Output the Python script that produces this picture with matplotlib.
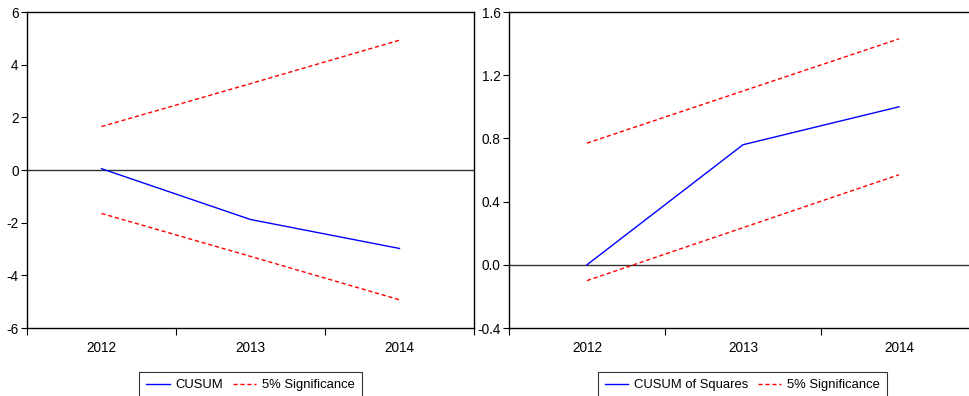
import matplotlib.pyplot as plt
import numpy as np

plt.rcParams['font.family'] = ['Liberation Sans', 'DejaVu Sans']

years = ['2012', '2013', '2014']

cusum = [0.05, -1.88, -2.98]
cusum_up = [1.65, 3.28, 4.93]
cusum_lo = [-1.65, -3.28, -4.93]

cusumsq = [0.0, 0.76, 1.0]
cusumsq_up = [0.77, 1.10, 1.43]
cusumsq_lo = [-0.10, 0.235, 0.57]

W, H = 969, 396
fig = plt.figure(figsize=(W / 100, H / 100), dpi=100)

def box(x0, x1, y0, y1):
    return [x0 / W, 1 - y1 / H, (x1 - x0) / W, (y1 - y0) / H]

ax1 = fig.add_axes(box(27, 474, 12, 328))
ax2 = fig.add_axes(box(509, 977, 12, 328))

def style(ax, ylim, yticks, ylabels):
    x = np.arange(len(years))
    ax.set_xlim(-0.5, len(years) - 0.5)
    ax.set_ylim(*ylim)
    ax.set_xticks(np.arange(len(years) + 1) - 0.5)
    ax.set_xticklabels([])
    ax.set_xticks(x, minor=True)
    ax.set_xticklabels(years, minor=True)
    ax.tick_params(axis='x', which='major', length=5, width=0.8, direction='out')
    ax.tick_params(axis='x', which='minor', length=0, pad=9, labelsize=9.8)
    ax.set_yticks(yticks)
    ax.set_yticklabels(ylabels)
    ax.tick_params(axis='y', length=4, width=0.8, direction='out', pad=2, labelsize=9.8)
    ax.axhline(0, color='#333333', lw=1.0, zorder=1)
    for s in ax.spines.values():
        s.set_linewidth(1.0)
    return x

x = style(ax1, (-6, 6), [-6, -4, -2, 0, 2, 4, 6], ['-6', '-4', '-2', '0', '2', '4', '6'])
ax1.plot(x, cusum, color='blue', lw=1.0, label='CUSUM')
ax1.plot(x, cusum_up, color='red', lw=1.0, ls=(0, (3, 2)), label='5% Significance')
ax1.plot(x, cusum_lo, color='red', lw=1.0, ls=(0, (3, 2)))

x = style(ax2, (-0.4, 1.6), [-0.4, 0.0, 0.4, 0.8, 1.2, 1.6],
          ['-0.4', '0.0', '0.4', '0.8', '1.2', '1.6'])
ax2.plot(x, cusumsq, color='blue', lw=1.0, label='CUSUM of Squares')
ax2.plot(x, cusumsq_up, color='red', lw=1.0, ls=(0, (3, 2)), label='5% Significance')
ax2.plot(x, cusumsq_lo, color='red', lw=1.0, ls=(0, (3, 2)))

for ax, cx in ((ax1, (142 + 359) / 2), (ax2, (595 + 890) / 2)):
    leg = ax.legend(loc='upper center', bbox_to_anchor=(cx / W, 1 - 372 / H),
                    bbox_transform=fig.transFigure, ncol=2, fontsize=9.4,
                    frameon=True, fancybox=False, handlelength=1.8,
                    handletextpad=0.45, columnspacing=0.7, borderpad=0.55,
                    borderaxespad=0)
    leg.get_frame().set_edgecolor('black')
    leg.get_frame().set_linewidth(0.8)

fig.savefig('out.png', dpi=100)
